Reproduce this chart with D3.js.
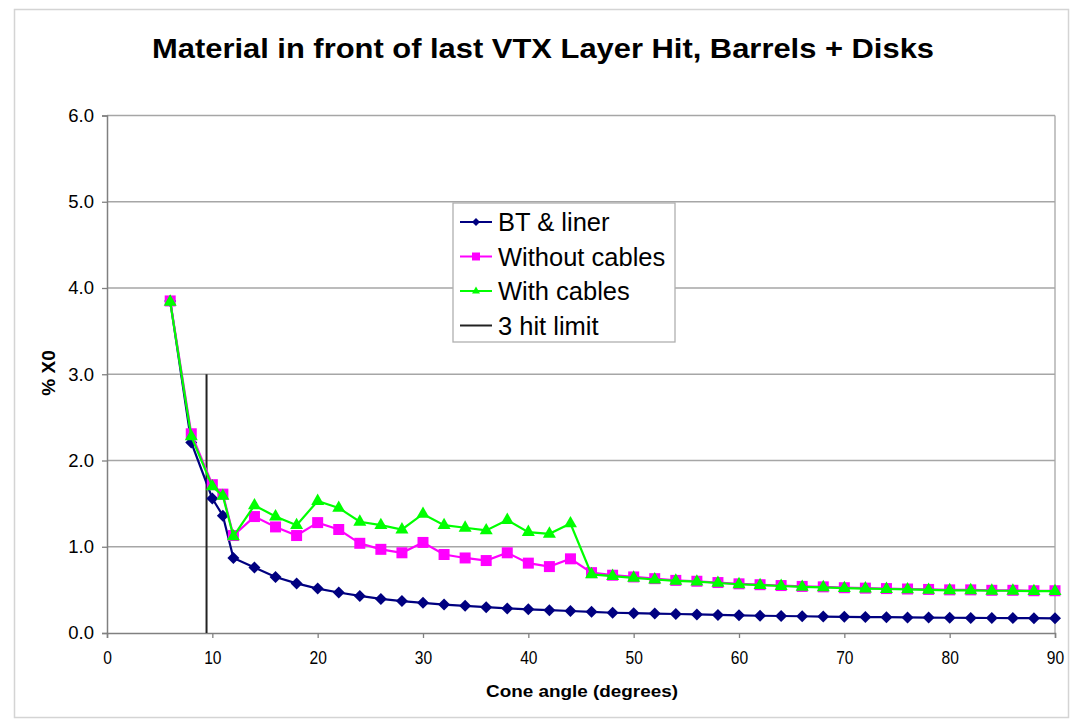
<!DOCTYPE html>
<html>
<head>
<meta charset="utf-8">
<script src="https://cdn.jsdelivr.net/npm/d3@7"></script>
<style>
  body { margin: 0; background: #fff; }
  svg { display: block; font-family: "Liberation Sans", Arial, sans-serif; }
</style>
</head>
<body>
<div id="chart"></div>
<script>
// cone angle (degrees)
const angles = [6, 8, 10, 11, 12, 14, 16, 18, 20, 22, 24, 26, 28, 30, 32, 34, 36, 38, 40, 42, 44,
  46, 48, 50, 52, 54, 56, 58, 60, 62, 64, 66, 68, 70, 72, 74, 76, 78, 80, 82, 84, 86, 88, 90];

const btLiner = [3.85, 2.21, 1.56, 1.36, 0.87, 0.76, 0.65, 0.575, 0.515, 0.47, 0.43, 0.395, 0.37, 0.35, 0.33, 0.315,
  0.30, 0.285, 0.275, 0.265, 0.255, 0.245, 0.235, 0.23, 0.225, 0.22, 0.215, 0.21, 0.205, 0.20, 0.197, 0.194,
  0.19, 0.188, 0.185, 0.183, 0.181, 0.179, 0.177, 0.175, 0.174, 0.173, 0.172, 0.17];

const withoutCables = [3.85, 2.31, 1.72, 1.61, 1.13, 1.35, 1.23, 1.13, 1.28, 1.20, 1.04, 0.97, 0.93, 1.05, 0.91, 0.87,
  0.84, 0.93, 0.81, 0.77, 0.86, 0.70, 0.67, 0.65, 0.63, 0.61, 0.60, 0.585, 0.57, 0.56, 0.55, 0.54,
  0.535, 0.525, 0.52, 0.515, 0.51, 0.505, 0.50, 0.50, 0.495, 0.495, 0.49, 0.49];

const withCables = [3.84, 2.28, 1.70, 1.59, 1.12, 1.48, 1.35, 1.25, 1.53, 1.45, 1.29, 1.25, 1.20, 1.38, 1.25, 1.22,
  1.19, 1.31, 1.17, 1.15, 1.27, 0.68, 0.66, 0.64, 0.62, 0.605, 0.595, 0.58, 0.565, 0.555, 0.545, 0.535,
  0.53, 0.52, 0.515, 0.51, 0.505, 0.50, 0.495, 0.495, 0.49, 0.49, 0.485, 0.485];

const hitLimitAngle = 9.45;
const hitLimitTop = 3.0;

const xTicks = [0, 10, 20, 30, 40, 50, 60, 70, 80, 90];
const yTicks = [0, 1, 2, 3, 4, 5, 6];

const seriesNames = ["BT & liner", "Without cables", "With cables", "3 hit limit"];

const width = 1073, height = 725;
const plot = { left: 107, right: 1055, top: 115.5, bottom: 633 };

const svg = d3.select("#chart").append("svg")
  .attr("width", width)
  .attr("height", height);

// outer chart frame
svg.append("rect")
  .attr("x", 14.5).attr("y", 9.5)
  .attr("width", 1054).attr("height", 708)
  .attr("fill", "#fff")
  .attr("stroke", "#d4d4d4")
  .attr("stroke-width", 1.5);

let x = d3.scaleLinear().domain([0, 90]).range([plot.left, plot.right]);
let y = d3.scaleLinear().domain([0, 6]).range([plot.bottom, plot.top]);

// gridlines
svg.append("g")
  .selectAll("line")
  .data(yTicks.filter(d => d > 0))
  .enter().append("line")
  .attr("x1", plot.left).attr("x2", plot.right)
  .attr("y1", d => y(d)).attr("y2", d => y(d))
  .attr("stroke", "#a6a6a6")
  .attr("stroke-width", 1.3);

// plot border (right side)
svg.append("line")
  .attr("x1", plot.right).attr("x2", plot.right)
  .attr("y1", plot.top).attr("y2", plot.bottom)
  .attr("stroke", "#a6a6a6").attr("stroke-width", 1.3);

// axes
let yAxis = d3.axisLeft(y).tickValues(yTicks).tickFormat(d3.format(".1f")).tickSize(5).tickPadding(8);
let gy = svg.append("g")
  .attr("transform", "translate(" + plot.left + ",0)")
  .call(yAxis);
gy.select(".domain").attr("stroke", "#808080").attr("stroke-width", 1.5);
gy.selectAll(".tick line").attr("stroke", "#808080").attr("stroke-width", 1.3);
gy.selectAll("text")
  .attr("font-family", "Liberation Sans, Arial, sans-serif")
  .attr("font-size", "18.5px")
  .attr("fill", "#000");

let xAxis = d3.axisBottom(x).tickValues(xTicks).tickFormat(d3.format("d")).tickSize(5).tickPadding(13);
let gx = svg.append("g")
  .attr("transform", "translate(0," + plot.bottom + ")")
  .call(xAxis);
gx.select(".domain").attr("stroke", "#808080").attr("stroke-width", 1.5);
gx.selectAll(".tick line").attr("stroke", "#808080").attr("stroke-width", 1.3);
gx.selectAll("text")
  .attr("font-family", "Liberation Sans, Arial, sans-serif")
  .attr("font-size", "19px")
  .attr("fill", "#000")
  .each(function () {
    // the reference digits are narrow
    let w = this.getComputedTextLength();
    d3.select(this).attr("textLength", w * 0.82).attr("lengthAdjust", "spacingAndGlyphs");
  });

// titles
svg.append("text")
  .attr("x", 543).attr("y", 58)
  .attr("text-anchor", "middle")
  .attr("font-size", "27px")
  .attr("font-weight", "bold")
  .attr("textLength", 782)
  .attr("lengthAdjust", "spacingAndGlyphs")
  .text("Material in front of last VTX Layer Hit, Barrels + Disks");

svg.append("text")
  .attr("x", 582).attr("y", 697)
  .attr("text-anchor", "middle")
  .attr("font-size", "17px")
  .attr("font-weight", "bold")
  .attr("textLength", 192)
  .attr("lengthAdjust", "spacingAndGlyphs")
  .text("Cone angle (degrees)");

svg.append("text")
  .attr("transform", "translate(55,373) rotate(-90)")
  .attr("text-anchor", "middle")
  .attr("font-size", "19px")
  .attr("font-weight", "bold")
  .text("% X0");

// 3 hit limit line
svg.append("line")
  .attr("x1", x(hitLimitAngle)).attr("x2", x(hitLimitAngle))
  .attr("y1", y(0)).attr("y2", y(hitLimitTop))
  .attr("stroke", "#222")
  .attr("stroke-width", 2);

// marker shapes
function diamond(s) { return "M0," + (-s) + "L" + s + ",0L0," + s + "L" + (-s) + ",0Z"; }
function square(s) { return "M" + (-s) + "," + (-s) + "h" + (2 * s) + "v" + (2 * s) + "h" + (-2 * s) + "Z"; }
function triangle(s) { return "M0," + (-s * 1.15) + "L" + s + "," + (s * 0.6) + "L" + (-s) + "," + (s * 0.6) + "Z"; }

const series = [
  { name: seriesNames[0], values: btLiner, color: "#000080", shape: diamond, size: 6 },
  { name: seriesNames[1], values: withoutCables, color: "#ff00ff", shape: square, size: 5.5 },
  { name: seriesNames[2], values: withCables, color: "#00ff00", shape: triangle, size: 6.5 }
];

let line = d3.line()
  .x((d, i) => x(angles[i]))
  .y(d => y(d));

series.forEach(s => {
  let g = svg.append("g");
  g.append("path")
    .datum(s.values)
    .attr("d", line)
    .attr("fill", "none")
    .attr("stroke", s.color)
    .attr("stroke-width", 2.2);
  g.selectAll("path.m")
    .data(s.values)
    .enter().append("path")
    .attr("class", "m")
    .attr("transform", (d, i) => "translate(" + x(angles[i]) + "," + y(d) + ")")
    .attr("d", s.shape(s.size))
    .attr("fill", s.color);
});

// legend
let legend = svg.append("g").attr("transform", "translate(453,203)");
legend.append("rect")
  .attr("width", 222).attr("height", 139)
  .attr("fill", "#fff")
  .attr("stroke", "#b0b0b0")
  .attr("stroke-width", 1.3);

const legendItems = series.concat([{ name: seriesNames[3], color: "#222", shape: null }]);
legendItems.forEach((s, i) => {
  let cy = 19 + i * 34.5;
  legend.append("line")
    .attr("x1", 7).attr("x2", 39)
    .attr("y1", cy).attr("y2", cy)
    .attr("stroke", s.color)
    .attr("stroke-width", 2);
  if (s.shape) {
    legend.append("path")
      .attr("transform", "translate(23," + cy + ")")
      .attr("d", s.shape(4))
      .attr("fill", s.color);
  }
  legend.append("text")
    .attr("x", 45).attr("y", cy + 9)
    .attr("font-size", "25.5px")
    .attr("fill", "#000")
    .text(s.name);
});
</script>
</body>
</html>
